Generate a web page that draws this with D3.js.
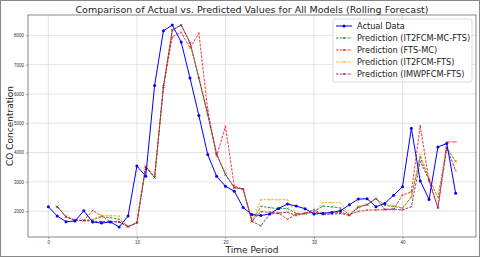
<!DOCTYPE html>
<html>
<head>
<meta charset="utf-8">
<script src="https://cdn.jsdelivr.net/npm/d3@7"></script>
<style>
  body { margin: 0; background: #fff; }
  svg { display: block; font-family: "DejaVu Sans", sans-serif; }
</style>
</head>
<body>
<div id="chart"></div>
<script>
// values
let actual = [2150, 1830, 1640, 1660, 2010, 1630, 1590, 1630, 1460, 1830,
    3540, 3190, 6290, 8160, 8350, 7770, 6540, 5260, 3930, 3190,
    2850, 2680, 2120, 1880, 1850, 1900, 2090, 2240, 2170, 2080,
    1900, 1920, 1956, 2013, 2217, 2410, 2420, 2150, 2262, 2544,
    2830, 4830, 3030, 2400, 4190, 4310, 2610];

let predIT2MC = [2150, 1810, 1685, 1680, 1700, 1810, 1780, 1720, 1470,
    1600, 3520, 3150, 6250, 8180, 8350, 7750, 6540, 5300, 3950, 3250,
    2800, 2750, 1650, 2160, 2120, 2080, 2090, 1920, 1920, 1980,
    2170, 2150, 2100, 1870, 2150, 2220, 2420, 2190, 2160, 2100,
    2490, 3850, 3100, 2470, 4160, 3700];

let predFTSMC = [2150, 1810, 1685, 1680, 2020, 1843, 1640, 1630, 1470,
    1600, 3520, 3150, 6250, 7950, 8100, 7570, 8070, 5450, 3870, 4890,
    2850, 2750, 1650, 1980, 1960, 1930, 1720, 1900, 1920, 1960,
    1930, 1950, 1960, 1880, 1990, 2030, 2040, 2050, 2060, 2550,
    2650, 4910, 3030, 2110, 4360, 4360];

let predIT2 = [2150, 1810, 1685, 1680, 1720, 1850, 1850, 1830, 1470,
    1600, 3520, 3150, 6250, 8180, 8350, 7750, 6540, 5300, 3950, 3250,
    2800, 2750, 1650, 2390, 2390, 2390, 2390, 1880, 1920, 1960,
    2290, 2290, 2290, 1880, 2170, 2220, 2410, 2220, 2190, 2100,
    2450, 3950, 3130, 2470, 4160, 3680];

let predIMWP = [2150, 1810, 1685, 1680, 1650, 1650, 1630, 1630, 1470,
    1600, 3520, 3150, 6250, 8180, 8350, 7750, 6540, 5300, 3950, 3250,
    2800, 2750, 1650, 1500, 1900, 1930, 1960, 1850, 1920, 2050,
    1880, 1900, 1920, 1850, 2120, 2220, 2430, 2060, 2070, 2040,
    2150, 3700, 3060, 2110, 4160, 3380];

let xTicks = [0, 10, 20, 30, 40];
let yTicks = [2000, 3000, 4000, 5000, 6000, 7000, 8000];

let series = [
    {name: 'Prediction (IT2FCM-MC-FTS)', values: predIT2MC, color: '#008000'},
    {name: 'Prediction (FTS-MC)', values: predFTSMC, color: '#ff0000'},
    {name: 'Prediction (IT2FCM-FTS)', values: predIT2, color: '#ffa500'},
    {name: 'Prediction (IMWPFCM-FTS)', values: predIMWP, color: '#800080'}
];

let width = 480, height = 257;
let mLeft = 28, mRight = 476, mTop = 15, mBottom = 237;

let svg = d3.select('#chart').append('svg')
    .attr('width', width)
    .attr('height', height);

svg.append('rect')
    .attr('x', 0.5).attr('y', 0.5)
    .attr('width', width - 1).attr('height', height - 1)
    .attr('fill', '#fff').attr('stroke', '#888').attr('stroke-width', 1);

// scales, 5% padding like matplotlib
let n = actual.length;
let allVals = actual.concat(...series.map(s => s.values));
let yMin = d3.min(allVals), yMax = d3.max(allVals);
let yPad = (yMax - yMin) * 0.05;
let xPad = (n - 1) * 0.05;

let x = d3.scaleLinear().domain([-xPad, n - 1 + xPad]).range([mLeft, mRight]);
let y = d3.scaleLinear().domain([yMin - yPad, yMax + yPad]).range([mBottom, mTop]);

// grid
svg.append('g').selectAll('line').data(xTicks).enter().append('line')
    .attr('x1', d => x(d)).attr('x2', d => x(d))
    .attr('y1', mTop).attr('y2', mBottom)
    .attr('stroke', '#dcdcdc').attr('stroke-width', 0.8);
svg.append('g').selectAll('line').data(yTicks).enter().append('line')
    .attr('x1', mLeft).attr('x2', mRight)
    .attr('y1', d => y(d)).attr('y2', d => y(d))
    .attr('stroke', '#dcdcdc').attr('stroke-width', 0.8);

// axes
let xAxis = svg.append('g')
    .attr('transform', 'translate(0,' + mBottom + ')')
    .call(d3.axisBottom(x).tickValues(xTicks).tickFormat(d3.format('d')).tickSize(2).tickPadding(2));
let yAxis = svg.append('g')
    .attr('transform', 'translate(' + mLeft + ',0)')
    .call(d3.axisLeft(y).tickValues(yTicks).tickFormat(d3.format('d')).tickSize(2).tickPadding(2));
for (let ax of [xAxis, yAxis]) {
    ax.select('.domain').remove();
    ax.selectAll('text').style('font-size', '4.5px').attr('fill', '#333');
    ax.selectAll('line').attr('stroke', '#555').attr('stroke-width', 0.5);
}

svg.append('rect')
    .attr('x', mLeft).attr('y', mTop)
    .attr('width', mRight - mLeft).attr('height', mBottom - mTop)
    .attr('fill', 'none').attr('stroke', '#555').attr('stroke-width', 0.7);

// prediction lines (start at t=1)
let line = d3.line().x(d => x(d.t)).y(d => y(d.v));

for (let s of series) {
    let pts = s.values.map((v, i) => ({t: i + 1, v: v}));
    let g = svg.append('g').attr('opacity', 0.8);
    g.append('path')
        .attr('d', line(pts))
        .attr('fill', 'none')
        .attr('stroke', s.color)
        .attr('stroke-width', 1)
        .attr('stroke-dasharray', '2.6,1.3');
    g.selectAll('path.mk').data(pts).enter().append('path')
        .attr('class', 'mk')
        .attr('d', d => {
            let cx = x(d.t), cy = y(d.v), r = 1;
            return 'M' + (cx - r) + ',' + (cy - r) + 'L' + (cx + r) + ',' + (cy + r) +
                'M' + (cx - r) + ',' + (cy + r) + 'L' + (cx + r) + ',' + (cy - r);
        })
        .attr('stroke', s.color).attr('stroke-width', 0.6);
}

// actual data on top
let actPts = actual.map((v, i) => ({t: i, v: v}));
svg.append('path')
    .attr('d', line(actPts))
    .attr('fill', 'none')
    .attr('stroke', '#0000ff')
    .attr('stroke-width', 1);
svg.append('g').selectAll('circle').data(actPts).enter().append('circle')
    .attr('cx', d => x(d.t)).attr('cy', d => y(d.v)).attr('r', 1.5)
    .attr('fill', '#0000ff');

// title and labels
svg.append('text')
    .attr('x', (mLeft + mRight) / 2).attr('y', 13)
    .attr('text-anchor', 'middle')
    .style('font-size', '9.5px').attr('fill', '#222')
    .text('Comparison of Actual vs. Predicted Values for All Models (Rolling Forecast)');

svg.append('text')
    .attr('x', (mLeft + mRight) / 2).attr('y', 253)
    .attr('text-anchor', 'middle')
    .style('font-size', '9px').attr('fill', '#222')
    .text('Time Period');

svg.append('text')
    .attr('transform', 'translate(13,' + ((mTop + mBottom) / 2) + ') rotate(-90)')
    .attr('text-anchor', 'middle')
    .style('font-size', '9px').attr('fill', '#222')
    .text('CO Concentration');

// legend
let legend = [{name: 'Actual Data', color: '#0000ff', actual: true}].concat(series);
let lg = svg.append('g').attr('transform', 'translate(333,19)');
lg.append('rect')
    .attr('width', 139).attr('height', 63).attr('rx', 2)
    .attr('fill', '#fff').attr('fill-opacity', 0.85)
    .attr('stroke', '#ccc').attr('stroke-width', 0.7);
legend.forEach((d, i) => {
    let row = lg.append('g').attr('transform', 'translate(0,' + (7 + i * 12) + ')');
    row.append('line')
        .attr('x1', 3).attr('x2', 19).attr('y1', 0).attr('y2', 0)
        .attr('stroke', d.color).attr('stroke-width', 1)
        .attr('stroke-dasharray', d.actual ? null : '2.6,1.3')
        .attr('opacity', d.actual ? 1 : 0.8);
    if (d.actual) {
        row.append('circle').attr('cx', 11).attr('cy', 0).attr('r', 1.5).attr('fill', d.color);
    } else {
        row.append('path').attr('d', 'M10,-1L12,1M10,1L12,-1')
            .attr('stroke', d.color).attr('stroke-width', 0.6);
    }
    row.append('text')
        .attr('x', 24).attr('y', 3)
        .style('font-size', '8.2px').attr('fill', '#222')
        .text(d.name);
});
</script>
</body>
</html>
